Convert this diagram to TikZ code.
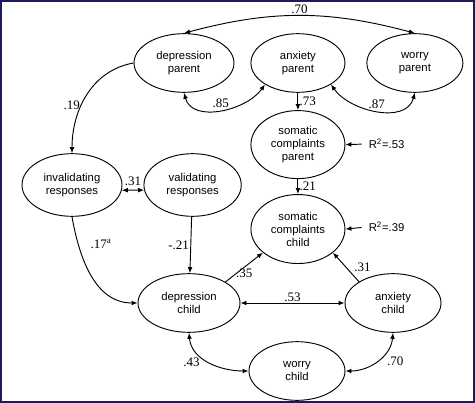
\documentclass[tikz,border=0pt]{standalone}
\usepackage{fontspec}
\setmainfont{Liberation Serif}
\setsansfont{Liberation Sans}
\usetikzlibrary{arrows.meta, positioning, shapes.geometric}
\definecolor{framenavy}{RGB}{28,28,92}

\begin{document}
\begin{tikzpicture}[x=0.75pt, y=0.75pt, line width=0.7pt, >={Latex[length=4.5pt, width=3.6pt]},
  var/.style={draw, ellipse, inner sep=0pt, align=center, minimum width=72pt, minimum height=44pt,
    font=\sffamily\fontsize{8.5}{9.75}\selectfont},
  coef/.style={font=\fontsize{9.75}{11}\selectfont, inner sep=1pt},
  rsq/.style={font=\sffamily\fontsize{8.5}{10}\selectfont, inner sep=1pt}]

  \useasboundingbox (0,0) rectangle (475,-403);
  \draw [framenavy, line width=1.2pt] (0.8,-0.8) rectangle (474.2,-402.2);

  % parent row
  \node [var, minimum width=75pt] (dp) at (184,-63) {depression\\parent};
  \node [var, minimum width=70.5pt, right=12pt of dp] (ap) {anxiety\\parent};
  \node [var, right=15.75pt of ap] (wp) {worry\\parent};
  \node [var, minimum width=70.5pt, minimum height=51pt, below=13pt of ap] (sp) {somatic\\complaints\\parent};
  \node [var, minimum width=70.5pt, minimum height=51.75pt, below=11.25pt of sp] (sc) {somatic\\complaints\\child};

  % responses
  \node [var, minimum width=75pt, minimum height=47pt] (ir) at (72,-185) {invalidating\\responses};
  \node [var, minimum width=73pt, minimum height=47pt, right=15.75pt of ir] (vr) {validating\\responses};

  % child row
  \node [var, minimum width=76.5pt] (dc) at (189,-303) {depression\\child};
  \node [var] (ac) at (393,-303) {anxiety\\child};
  \node [var] (wc) at (297,-371) {worry\\child};

  \node [rsq, anchor=west] (r1) at (367,-144) {R\textsuperscript{2}=.53};
  \node [rsq, anchor=west] (r2) at (367,-227) {R\textsuperscript{2}=.39};

  \draw [<->] (dp.north) to[out=15, in=165] node[coef, above] {.70} (wp.north);
  \draw [<->] (dp.south) to[out=-75, in=-125] node[coef, above] {.85} (ap.213);
  \draw [<->] (ap.-33) to[out=-55, in=-105] node[coef, above] {.87} (wp.south);
  \draw [->] (ap) -- node[coef, right] {.73} (sp);
  \draw [->] (sp) -- node[coef, right] {.21} (sc);
  \draw [->, shorten <=4pt] (r1.west) -- (sp.east);
  \draw [->, shorten <=4pt] (r2.west) -- (sc.east);

  \draw [->] (dp.west) to[out=190, in=90] node[coef, pos=0.6, left=0pt] {.19} (ir.north);
  \draw [<->] (ir.-6) -- node[coef, above=2pt] {.31} (vr.186);
  \draw [->] (ir.south) to[out=-80, in=180] node[coef, pos=0.22, right=8pt] {.17\textsuperscript{a}} (dc.west);
  \draw [->] (vr) -- node[coef, left] {-.21} (dc);

  \draw [->] (dc.30) -- node[coef, below] {.35} (sc.214);
  \draw [->] (ac.148) -- node[coef, right=5pt] {.31} (sc.-34);
  \draw [<->] (dc) -- node[coef, above] {.53} (ac);
  \draw [<->] (dc.south) to[out=-85, in=180] node[coef, left=6pt] {.43} (wc.west);
  \draw [<->] (ac.south) to[out=-95, in=0] node[coef, right=6pt] {.70} (wc.east);
\end{tikzpicture}
\end{document}
